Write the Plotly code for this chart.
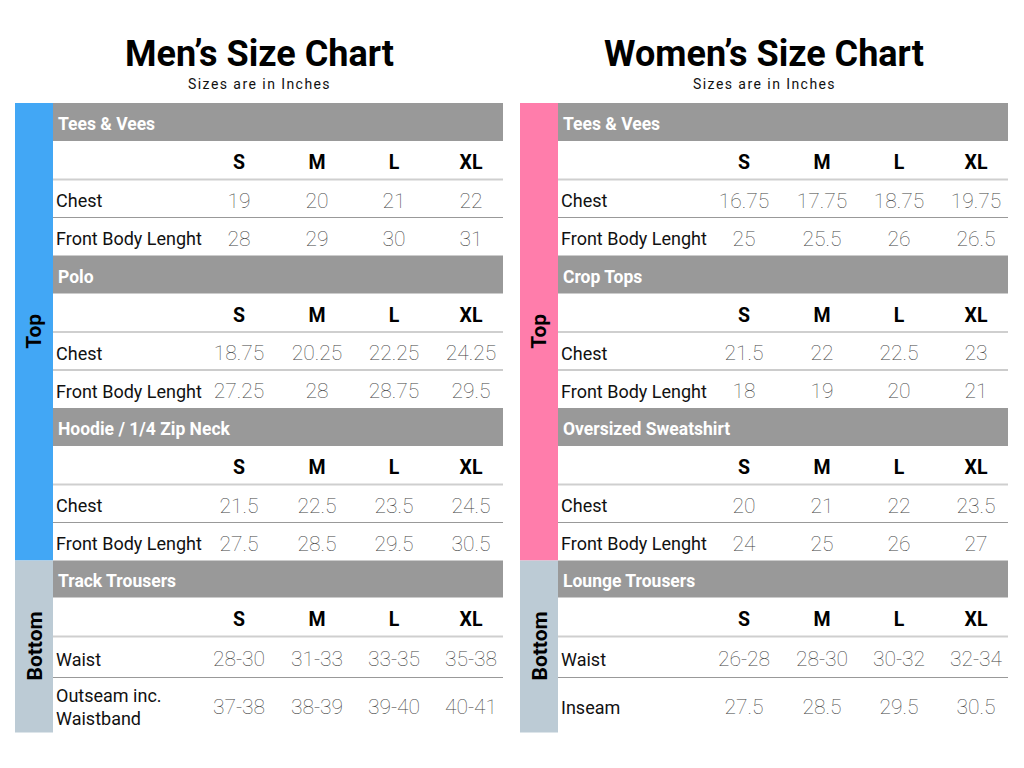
import plotly.graph_objects as go

sizes = ["S", "M", "L", "XL"]

men_sections = ["Tees & Vees", "Polo", "Hoodie / 1/4 Zip Neck", "Track Trousers"]
men_rows = [["Chest", "Front Body Lenght"],
            ["Chest", "Front Body Lenght"],
            ["Chest", "Front Body Lenght"],
            ["Waist", "Outseam inc.<br>Waistband"]]
men_tees = [["19", "20", "21", "22"], ["28", "29", "30", "31"]]
men_polo = [["18.75", "20.25", "22.25", "24.25"], ["27.25", "28", "28.75", "29.5"]]
men_hoodie = [["21.5", "22.5", "23.5", "24.5"], ["27.5", "28.5", "29.5", "30.5"]]
men_trousers = [["28-30", "31-33", "33-35", "35-38"], ["37-38", "38-39", "39-40", "40-41"]]

women_sections = ["Tees & Vees", "Crop Tops", "Oversized Sweatshirt", "Lounge Trousers"]
women_rows = [["Chest", "Front Body Lenght"],
              ["Chest", "Front Body Lenght"],
              ["Chest", "Front Body Lenght"],
              ["Waist", "Inseam"]]
women_tees = [["16.75", "17.75", "18.75", "19.75"], ["25", "25.5", "26", "26.5"]]
women_crop = [["21.5", "22", "22.5", "23"], ["18", "19", "20", "21"]]
women_sweat = [["20", "21", "22", "23.5"], ["24", "25", "26", "27"]]
women_lounge = [["26-28", "28-30", "30-32", "32-34"], ["27.5", "28.5", "29.5", "30.5"]]

groups = ["Top", "Bottom"]

# layout constants (pixels, page coordinates)
TOP = 103
ROW_H = [38, 38.5, 38, 38]          # header, sizes, row1, row2 for top sections
BOT_H = [37, 39, 41, 55]            # same for bottom section
SIDE_W = 38
TABLE_W = 450
COL_OFF = [186, 264, 341, 418]      # column centres from table left
PAGE_PAD = 8                        # default body margin of the html page
DY = 4                              # scatter text sits a bit high, push it down

fig = go.Figure()
shapes = []
annotations = []

FONT = "Roboto"


def add_chart(x0, title, sections, rows, values, top_color, bottom_color):
    tx = x0 + SIDE_W
    tx1 = tx + TABLE_W
    cx = (x0 + tx1) / 2
    annotations.append(dict(x=cx, y=54, text="<b>" + title + "</b>", showarrow=False,
                            font=dict(family=FONT, size=36, color="#000")))
    annotations.append(dict(x=cx, y=84, text="\u200a".join("Sizes are in Inches"), showarrow=False,
                            font=dict(family=FONT, size=14, color="#111")))
    y = TOP
    group_spans = []
    for si, sec in enumerate(sections):
        hts = BOT_H if si == len(sections) - 1 else ROW_H
        ys = y
        # header bar
        shapes.append(dict(type="rect", x0=tx, x1=tx1, y0=y, y1=y + hts[0], fillcolor="#999999",
                           line_width=0, layer="below"))
        fig.add_trace(go.Scatter(x=[tx + 5], y=[y + hts[0] / 2 + DY], mode="text", text=[sec],
                                 textposition="middle right", hoverinfo="skip",
                                 textfont=dict(family=FONT, size=17.5, color="white", weight="bold")))
        y += hts[0]
        # sizes row
        fig.add_trace(go.Scatter(x=[tx + c for c in COL_OFF], y=[y + hts[1] / 2 + DY] * 4, mode="text",
                                 text=sizes, hoverinfo="skip",
                                 textfont=dict(family=FONT, size=19.5, color="#000", weight="bold")))
        y += hts[1]
        shapes.append(dict(type="line", x0=tx, x1=tx1, y0=y, y1=y, line=dict(color="#cfcfcf", width=2)))
        for ri, lab in enumerate(rows[si]):
            h = hts[2 + ri]
            fig.add_trace(go.Scatter(x=[tx + 3], y=[y + h / 2 + DY], mode="text", text=[lab],
                                     textposition="middle right", hoverinfo="skip",
                                     textfont=dict(family=FONT, size=18, color="#111")))
            fig.add_trace(go.Scatter(x=[tx + c for c in COL_OFF], y=[y + h / 2 + DY] * 4, mode="text",
                                     text=values[si][ri], hoverinfo="skip",
                                     textfont=dict(family=FONT, size=21, color="#444", weight=100)))
            y += h
            if ri == 0:
                shapes.append(dict(type="line", x0=tx, x1=tx1, y0=y, y1=y,
                                   line=dict(color="#999999", width=1)))
        group_spans.append((ys, y))
    top_span = (group_spans[0][0], group_spans[-2][1])
    bot_span = group_spans[-1]
    for (g0, g1), name, col in [(top_span, groups[0], top_color), (bot_span, groups[1], bottom_color)]:
        shapes.append(dict(type="rect", x0=x0, x1=tx, y0=g0, y1=g1, fillcolor=col, line_width=0,
                           layer="below"))
        annotations.append(dict(x=x0 + SIDE_W / 2, y=(g0 + g1) / 2, text="<b>" + name + "</b>",
                                textangle=-90, showarrow=False,
                                font=dict(family=FONT, size=21, color="#000")))


add_chart(15, "Men’s Size Chart", men_sections, men_rows,
          [men_tees, men_polo, men_hoodie, men_trousers], "#42a7f5", "#bccbd5")
add_chart(520, "Women’s Size Chart", women_sections, women_rows,
          [women_tees, women_crop, women_sweat, women_lounge], "#ff7dab", "#bccbd5")

W, H = 1024 - 2 * PAGE_PAD, 768 - 2 * PAGE_PAD
fig.update_layout(
    width=W, height=H,
    margin=dict(l=0, r=0, t=0, b=0),
    paper_bgcolor="white", plot_bgcolor="white",
    showlegend=False,
    shapes=shapes, annotations=annotations,
    xaxis=dict(range=[PAGE_PAD, PAGE_PAD + W], visible=False, fixedrange=True),
    yaxis=dict(range=[PAGE_PAD + H, PAGE_PAD], visible=False, fixedrange=True),
)

fig.write_html("out.html", config={"displayModeBar": False})
